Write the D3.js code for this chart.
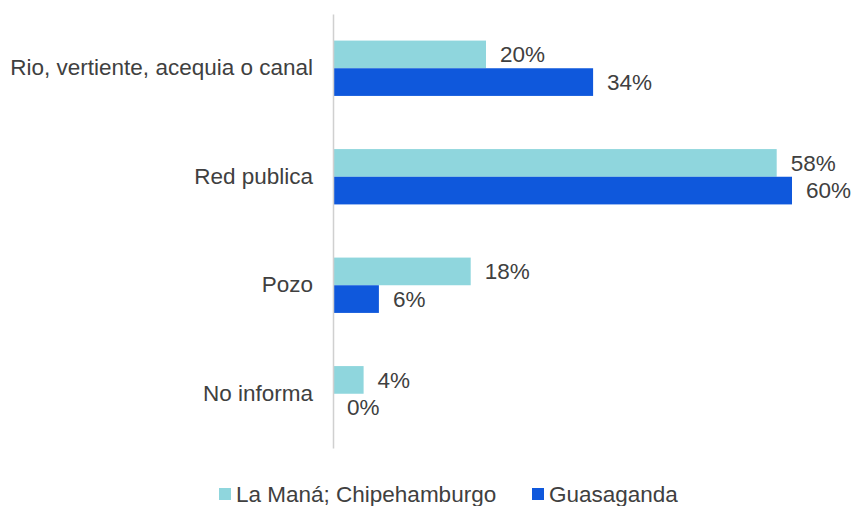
<!DOCTYPE html>
<html><head><meta charset="utf-8">
<script src="https://cdn.jsdelivr.net/npm/d3@7"></script>
<style>body{margin:0;background:#fff}svg{display:block}text{font-family:"Liberation Sans",Arial,sans-serif}</style>
</head><body>
<script>
const categories = ["Rio, vertiente, acequia o canal", "Red publica", "Pozo", "No informa"];
const seriesNames = ["La Maná; Chipehamburgo", "Guasaganda"];
const laMana = [20, 58, 18, 4];
const guasaganda = [34, 60, 6, 0];
const colors = ["#8fd6dd", "#0f58dc"];

const W = 855, H = 506;
const FS = 22.5;
const svg = d3.select("body").append("svg").attr("width", W).attr("height", H);
const x = d3.scaleLinear().domain([0, 60]).range([333, 792]);
const y = d3.scaleBand().domain(categories).range([14, 448]).paddingInner(0.49).paddingOuter(0.245);
const y1 = d3.scaleBand().domain([0, 1]).range([0, y.bandwidth()]);
const series = [laMana, guasaganda];

series.forEach((vals, si) => {
  const g = svg.append("g");
  g.selectAll("rect").data(categories).join("rect")
    .attr("x", x(0))
    .attr("y", c => y(c) + y1(si))
    .attr("width", (c, i) => x(vals[i]) - x(0))
    .attr("height", y1.bandwidth())
    .attr("fill", colors[si]);
  g.selectAll("text").data(categories).join("text")
    .attr("x", (c, i) => x(vals[i]) + 14)
    .attr("y", c => y(c) + y1(si) + y1.bandwidth() / 2)
    .attr("dy", "0.35em")
    .attr("font-size", FS)
    .attr("fill", "#404040")
    .text((c, i) => vals[i] + "%");
});

const axis = svg.append("g").attr("transform", `translate(${x(0)},0)`)
  .call(d3.axisLeft(y).tickSize(0).tickPadding(20));
axis.select(".domain").attr("stroke", "#d0d0d0").attr("stroke-width", 1.5);
axis.selectAll("text").attr("font-size", FS).attr("fill", "#404040")
  .attr("font-family", "Liberation Sans, Arial, sans-serif");

const legendX = [219, 532];
seriesNames.forEach((n, i) => {
  svg.append("rect").attr("x", legendX[i]).attr("y", 488).attr("width", 12).attr("height", 12).attr("fill", colors[i]);
  svg.append("text").attr("x", legendX[i] + 17).attr("y", 494).attr("dy", "0.35em")
    .attr("font-size", FS).attr("fill", "#404040").text(n);
});
</script>
</body></html>
